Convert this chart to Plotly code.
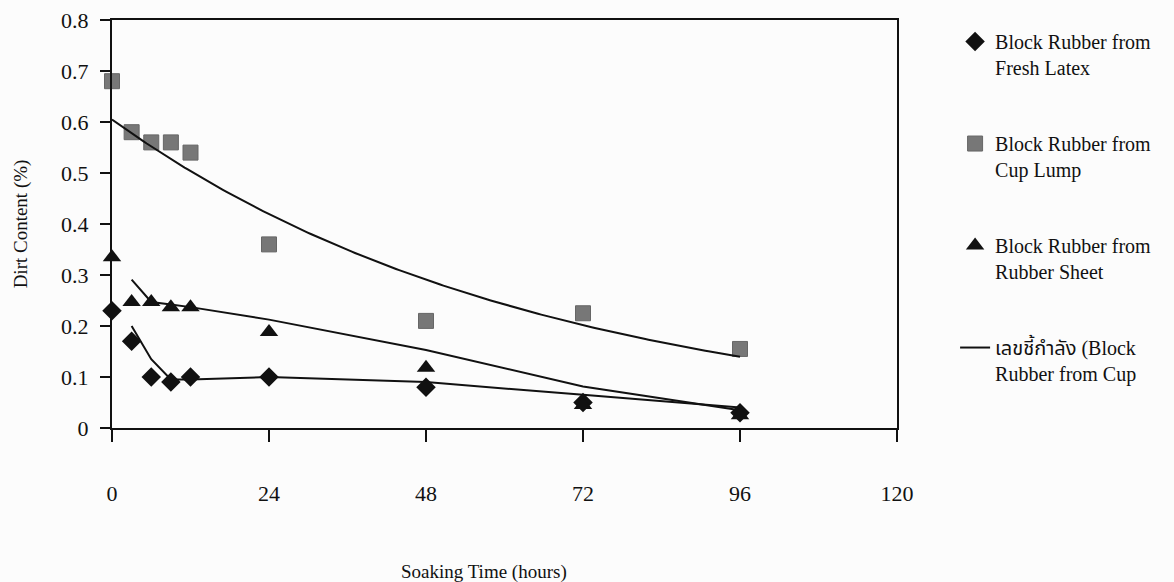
import numpy as np
import pandas as pd
import plotly.graph_objects as go

# ---- data ----
hours = [0, 3, 6, 9, 12, 24, 48, 72, 96]
fresh_latex = [0.23, 0.17, 0.10, 0.09, 0.10, 0.10, 0.08, 0.05, 0.03]
cup_lump = [0.68, 0.58, 0.56, 0.56, 0.54, 0.36, 0.21, 0.225, 0.155]
rubber_sheet = [0.335, 0.247, 0.247, 0.237, 0.237, 0.188, 0.118, 0.045, 0.025]
x_ticks = [0, 24, 48, 72, 96, 120]
y_ticks = [0, 0.1, 0.2, 0.3, 0.4, 0.5, 0.6, 0.7, 0.8]

names = {
    "fresh": "Block Rubber from<br>Fresh Latex",
    "cup": "Block Rubber from<br>Cup Lump",
    "sheet": "Block Rubber from<br>Rubber Sheet",
    "trend": "เลขชี้กำลัง (Block<br>Rubber from Cup",
}
x_title = "Soaking Time (hours)"
y_title = "Dirt Content (%)"

FONT = "Liberation Serif, Times New Roman, Noto Sans Thai, DejaVu Serif, serif"

# ---- trendlines derived from the data ----
# exponential (Excel-style) fit for cup lump
b, a = np.polyfit(hours, np.log(cup_lump), 1)
x_fit = np.linspace(hours[0], hours[-1], 200)
y_fit = np.exp(a) * np.exp(b * x_fit)

# 2-period moving averages for the other two series
ma_fresh = pd.Series(fresh_latex).rolling(2).mean()
ma_sheet = pd.Series(rubber_sheet).rolling(2).mean()

fig = go.Figure()

line_style = dict(color="#111111", width=2)

fig.add_trace(go.Scatter(x=hours[1:], y=ma_fresh[1:], mode="lines", line=line_style,
                         showlegend=False, hoverinfo="skip"))
fig.add_trace(go.Scatter(x=hours[1:], y=ma_sheet[1:], mode="lines", line=line_style,
                         showlegend=False, hoverinfo="skip"))

fig.add_trace(go.Scatter(x=hours, y=fresh_latex, mode="markers", name=names["fresh"],
                         legendgroup="a", cliponaxis=False,
                         marker=dict(symbol="diamond", size=15, color="#111111")))
fig.add_trace(go.Scatter(x=hours, y=cup_lump, mode="markers", name=names["cup"],
                         legendgroup="b", cliponaxis=False,
                         marker=dict(symbol="square", size=15, color="#777777",
                                     line=dict(color="#666666", width=1))))
fig.add_trace(go.Scatter(x=hours, y=rubber_sheet, mode="markers", name=names["sheet"],
                         legendgroup="c", cliponaxis=False,
                         marker=dict(symbol="triangle-up", size=16, color="#111111")))
fig.add_trace(go.Scatter(x=x_fit, y=y_fit, mode="lines", name=names["trend"],
                         legendgroup="d", line=line_style, hoverinfo="skip"))

fig.update_layout(
    width=1174, height=582,
    margin=dict(l=112, r=277, t=20, b=154),
    paper_bgcolor="#fcfcfc", plot_bgcolor="#fcfcfc",
    font=dict(family=FONT, size=22, color="#111111"),
    legend=dict(x=1.074, y=0.995, xanchor="left", yanchor="top",
                font=dict(family=FONT, size=20, color="#111111"),
                traceorder="grouped", tracegroupgap=47, valign="top",
                maxheight=560, bgcolor="rgba(0,0,0,0)"),
    showlegend=True,
)

fig.add_annotation(text=x_title, xref="paper", yref="paper", x=0.474, y=-0.353,
                   xanchor="center", yanchor="middle", showarrow=False,
                   font=dict(family=FONT, size=19, color="#111111"))

fig.update_xaxes(
    range=[0, 120], tickvals=x_ticks, ticktext=[str(t) for t in x_ticks],
    ticks="outside", ticklen=12, tickwidth=2, tickcolor="#111111",
    showline=True, linecolor="#111111", linewidth=2, mirror=True,
    showgrid=False, zeroline=False, ticklabelstandoff=33, automargin=False,
    tickfont=dict(family=FONT, size=22),
)
fig.update_yaxes(
    range=[0, 0.8], tickvals=y_ticks, ticktext=[f"{t:g}" for t in y_ticks],
    ticks="outside", ticklen=10, tickwidth=2, tickcolor="#111111",
    showline=True, linecolor="#111111", linewidth=2, mirror=True,
    showgrid=False, zeroline=False, ticklabelstandoff=7, automargin=False,
    tickfont=dict(family=FONT, size=22),
    title=dict(text=y_title, font=dict(family=FONT, size=19), standoff=28),
)

fig.write_html("out.html", config={"displayModeBar": False},
               post_script="document.body.style.margin='0';document.body.style.padding='0';")
